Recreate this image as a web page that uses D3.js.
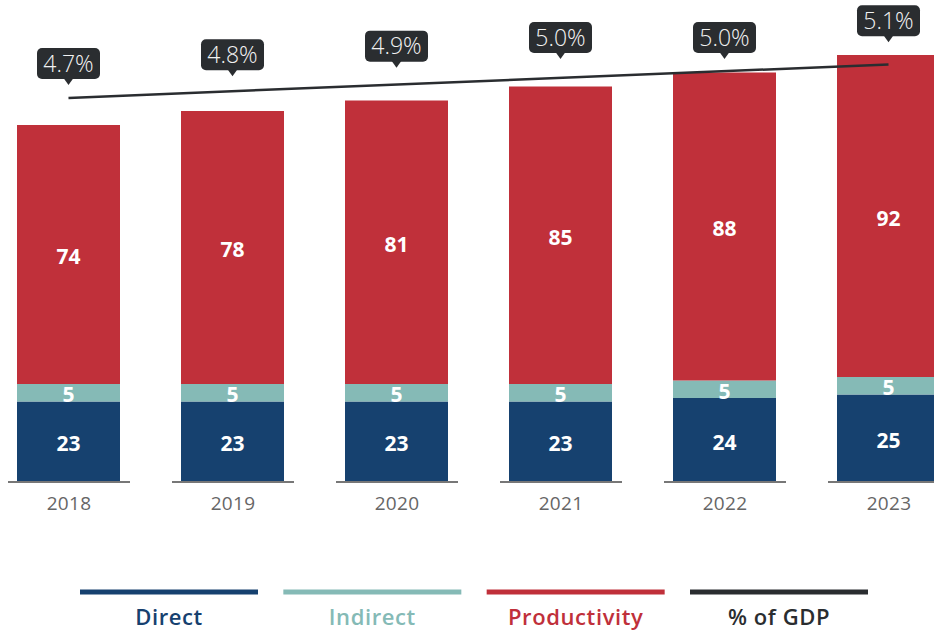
<!DOCTYPE html>
<html>
<head>
<meta charset="utf-8">
<script src="https://cdn.jsdelivr.net/npm/d3@7"></script>
<style>
  body { margin: 0; background: #fff; }
  svg { display: block; font-family: "Open Sans", Lato, sans-serif; }
</style>
</head>
<body>
<svg id="chart" width="934" height="633"></svg>
<script>
// data
var years = ["2018", "2019", "2020", "2021", "2022", "2023"];
var direct = [23, 23, 23, 23, 24, 25];
var indirect = [5, 5, 5, 5, 5, 5];
var productivity = [74, 78, 81, 85, 88, 92];
var gdpShare = [4.7, 4.8, 4.9, 5.0, 5.0, 5.1];
var seriesNames = ["Direct", "Indirect", "Productivity", "% of GDP"];
var seriesColors = ["#16416f", "#85bab6", "#c0303a", "#2a2d30"];

var svg = d3.select("#chart");
var baseY = 482, barW = 103;

var x = d3.scalePoint().domain(years).range([68.5, 888.5]);
var y = d3.scaleLinear().domain([0, 100]).range([baseY, 132]);
var yLine = d3.scaleLinear().domain([4.7, 5.1]).range([100, 65.3]);

// stack the three bar series
var rows = years.map(function(yr, i){
  return {year: yr, Direct: direct[i], Indirect: indirect[i], Productivity: productivity[i]};
});
var stack = d3.stack().keys(seriesNames.slice(0, 3))(rows);

var layers = svg.selectAll(".layer").data(stack).enter().append("g")
  .attr("fill", function(d, i){ return seriesColors[i]; });

layers.selectAll("rect").data(function(d){ return d; }).enter().append("rect")
  .attr("x", function(d){ return x(d.data.year) - barW/2; })
  .attr("width", barW)
  .attr("y", function(d){ return y(d[1]); })
  .attr("height", function(d){ return y(d[0]) - y(d[1]); });

layers.selectAll("text").data(function(d){ return d; }).enter().append("text")
  .attr("x", function(d){ return x(d.data.year); })
  .attr("y", function(d){ return (y(d[0]) + y(d[1]))/2 + 2; })
  .attr("dy", "0.36em")
  .attr("text-anchor", "middle")
  .attr("fill", "#fff")
  .attr("font-size", 21).attr("font-weight", 700)
  .text(function(d){ return d[1] - d[0]; });

// x axis: one short baseline per year
var axis = svg.append("g").attr("transform", "translate(0," + baseY + ")")
  .call(d3.axisBottom(x).tickSize(0).tickPadding(15));
axis.select(".domain").remove();
axis.selectAll("text").attr("font-size", 19).attr("fill", "#666")
  .attr("font-family", "'Open Sans', sans-serif").attr("font-weight", 400)
  .attr("letter-spacing", 0.3);
axis.selectAll(".tick").append("line")
  .attr("x1", -61).attr("x2", 61)
  .attr("stroke", "#777").attr("stroke-width", 2);

// % of GDP trend line (least squares through the shares)
var n = gdpShare.length, mx = (n - 1)/2, my = d3.mean(gdpShare);
var sxy = d3.sum(gdpShare, function(v, i){ return (i - mx)*(v - my); });
var sxx = d3.sum(gdpShare, function(v, i){ return (i - mx)*(i - mx); });
var slope = sxy/sxx;
var fit = function(i){ return my + slope*(i - mx); };

svg.append("path")
  .datum([0, n - 1])
  .attr("fill", "none").attr("stroke", seriesColors[3]).attr("stroke-width", 2.5)
  .attr("d", d3.line()
    .x(function(i){ return x(years[i]); })
    .y(function(i){ return yLine(fit(i)); }));

// callout labels
var bw = 63, bh = 31;
var callouts = svg.selectAll(".callout").data(gdpShare).enter().append("g")
  .attr("transform", function(v, i){
    var tip = i == n - 1 ? yLine(v) - 23 : yLine(v) - 15;
    return "translate(" + x(years[i]) + "," + tip + ")";
  });
callouts.append("rect")
  .attr("x", -bw/2).attr("y", -6 - bh).attr("width", bw).attr("height", bh)
  .attr("rx", 5).attr("fill", "#2a2d30");
callouts.append("path").attr("d", "M-5,-7L0,0L5,-7Z").attr("fill", "#2a2d30");
callouts.append("text")
  .attr("y", -6 - bh/2).attr("dy", "0.36em")
  .attr("text-anchor", "middle").attr("fill", "#f2f2f2")
  .attr("font-size", 23).attr("font-weight", 300)
  .text(function(v){ return v.toFixed(1) + "%"; });

// legend
var lx = d3.scalePoint().domain(seriesNames).range([169, 779]);
var legend = svg.selectAll(".leg").data(seriesNames).enter().append("g")
  .attr("transform", function(d){ return "translate(" + lx(d) + ",0)"; });
legend.append("line")
  .attr("x1", -89).attr("x2", 89).attr("y1", 592).attr("y2", 592)
  .attr("stroke", function(d, i){ return seriesColors[i]; }).attr("stroke-width", 5);
legend.append("text")
  .attr("y", 617).attr("dy", "0.36em").attr("text-anchor", "middle")
  .attr("font-size", 22).attr("font-weight", 600).attr("letter-spacing", 0.6)
  .attr("fill", function(d, i){ return seriesColors[i]; })
  .text(function(d){ return d; });
</script>
</body>
</html>
